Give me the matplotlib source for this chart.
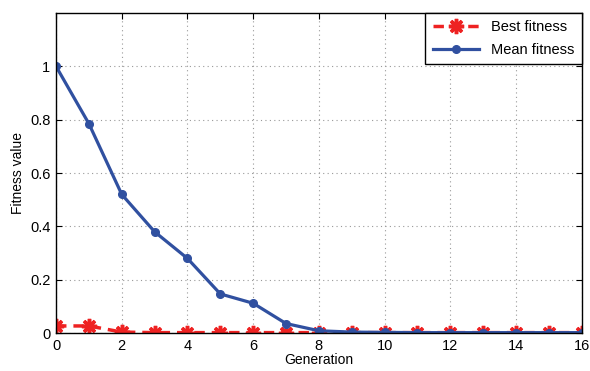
import matplotlib
matplotlib.use("Agg")
import matplotlib.pyplot as plt

plt.rcParams['font.family'] = ['Liberation Sans', 'DejaVu Sans']

generations = list(range(17))
mean_fitness = [1.0, 0.785, 0.52, 0.38, 0.28, 0.147, 0.112, 0.036, 0.009, 0.004, 0.003,
                0.002, 0.002, 0.002, 0.002, 0.002, 0.002]
best_fitness = [0.027, 0.027, 0.004, 0.002, 0.002, 0.002, 0.002, 0.002, 0.002, 0.002,
                0.002, 0.002, 0.002, 0.002, 0.002, 0.002, 0.002]

fig = plt.figure(figsize=(5.9, 3.71), dpi=100)
ax = fig.add_axes([0.095, 0.102, 0.891, 0.863])

# MATLAB-style asterisk marker: 8 spokes
ax.plot(generations, best_fitness, color='#ee2222', linestyle='--', linewidth=2.5,
        marker=(8, 2, 0), markersize=11, markeredgewidth=2.5, label='Best fitness',
        dashes=(3, 2))
ax.plot(generations, mean_fitness, color='#3050a0', linewidth=2.3, marker='o',
        markersize=5.5, label='Mean fitness')

ax.set_xlim(0, 16)
ax.set_ylim(0, 1.2)
ax.set_xticks(range(0, 17, 2))
ax.set_yticks([0, 0.2, 0.4, 0.6, 0.8, 1])
ax.set_yticklabels(['0', '0.2', '0.4', '0.6', '0.8', '1'])
ax.tick_params(direction='in', labelsize=10.5, length=4, top=True, right=True, pad=4)
ax.grid(True, linestyle=(0, (1, 3)), color='#999999', linewidth=0.8)
for s in ax.spines.values():
    s.set_linewidth(1.0)
ax.set_xlabel('Generation', fontsize=10, labelpad=0)
ax.set_ylabel('Fitness value', fontsize=10, labelpad=4)

leg = ax.legend(loc='upper right', fontsize=10.5, fancybox=False, framealpha=1,
                edgecolor='black', borderaxespad=0.0, handlelength=3.2,
                labelspacing=0.6, borderpad=0.5)
leg.get_frame().set_linewidth(1.0)

fig.savefig('out.png', dpi=100)
